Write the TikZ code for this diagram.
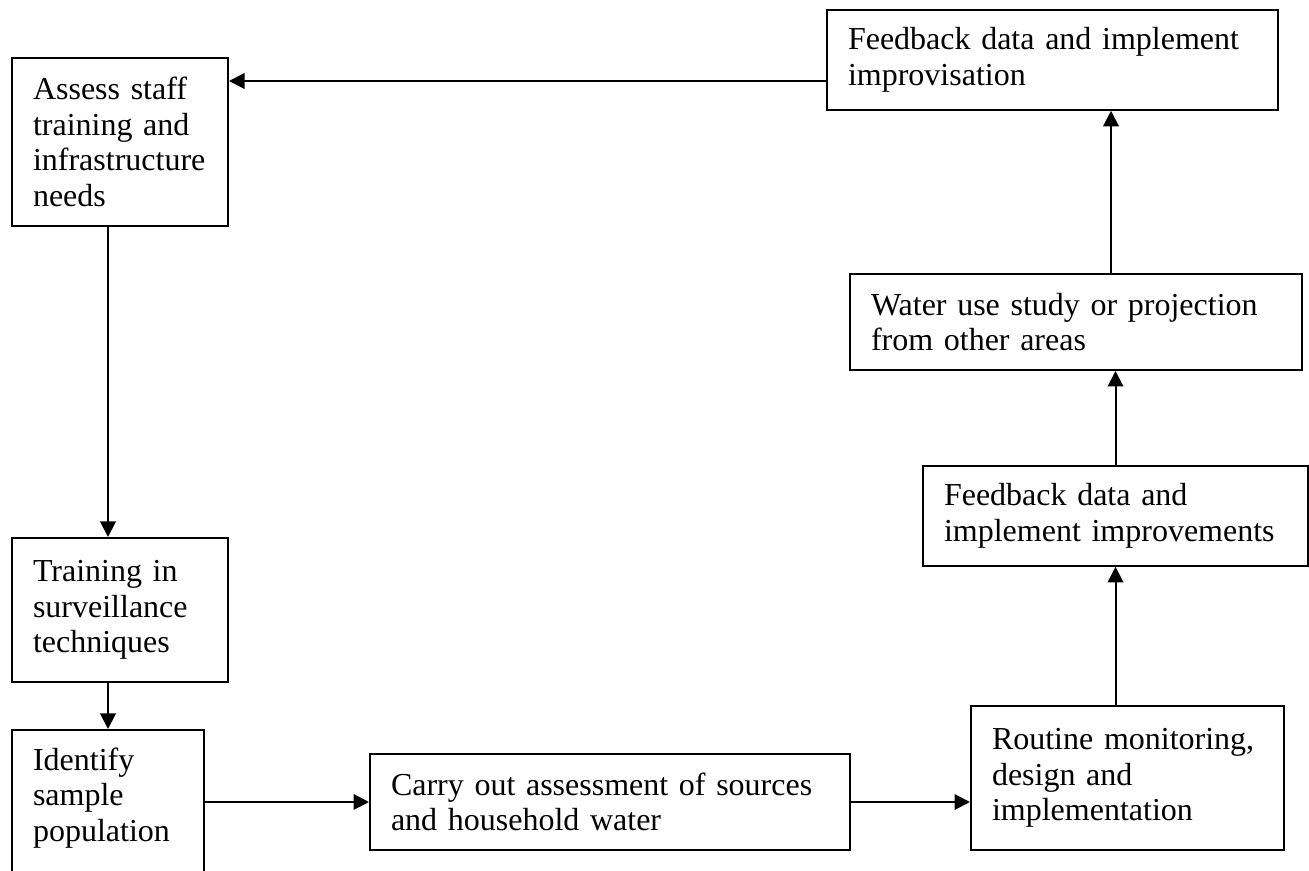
\documentclass[tikz,border=0pt]{standalone}
\usepackage{fontspec}
\setmainfont{Liberation Serif}
\usetikzlibrary{arrows.meta}

\begin{document}
\begin{tikzpicture}[x=0.4pt,y=-0.4pt,
  flowbox/.style={draw,line width=0.8pt,anchor=north west,align=left,
    inner xsep=8.4pt,inner ysep=7pt,font=\fontsize{12.8pt}{14.3pt}\selectfont},
  flowarrow/.style={line width=0.8pt,-{Triangle[length=6.2pt,width=6.2pt]}}]
  % Page frame
  \useasboundingbox (0,0) rectangle (1309,871);
  \clip (0,0) rectangle (1309,871);

  % Left column
  \node[flowbox,text width=69.6pt,minimum height=67.2pt] (assess) at (11,57)
    {Assess staff\\training and\\infrastructure\\needs};
  \node[flowbox,text width=69.6pt,minimum height=57.6pt] (training) at (11,537)
    {Training in\\surveillance\\techniques};
  \node[flowbox,text width=60pt,text depth=45pt] (identify) at (11,729)
    {Identify\\sample\\population};

  % Bottom row
  \node[flowbox,text width=175.2pt,minimum height=38.4pt] (carry) at (369,753)
    {Carry out assessment of sources\\and household water};
  \node[flowbox,text width=108.4pt,minimum height=57.6pt] (routine) at (970,705)
    {Routine monitoring,\\design and\\implementation};

  % Right column
  \node[flowbox,text width=137.2pt,minimum height=38.8pt] (fbimprove) at (922,465)
    {Feedback data and\\implement improvements};
  \node[flowbox,text width=164pt,minimum height=38.4pt] (water) at (849,273)
    {Water use study or projection\\from other areas};
  \node[flowbox,text width=163.6pt,minimum height=38.4pt] (fbimprov) at (826,9)
    {Feedback data and implement\\improvisation};

  % Arrows
  \coordinate (toprow) at (0,81);
  \coordinate (rightcol) at (1111,0);
  \draw[flowarrow] (fbimprov.west |- toprow) -- (assess.east |- toprow);
  \draw[flowarrow] (assess.south -| identify.north) -- (training.north -| identify.north);
  \draw[flowarrow] (training.south -| identify.north) -- (identify.north);
  \draw[flowarrow] (identify.east |- carry.west) -- (carry.west);
  \draw[flowarrow] (carry.east) -- (carry.east -| routine.west);
  \draw[flowarrow] (routine.north -| fbimprove.north) -- (fbimprove.south);
  \draw[flowarrow] (fbimprove.north) -- (water.south -| fbimprove.north);
  \draw[flowarrow] (water.north -| rightcol) -- (fbimprov.south -| rightcol);
\end{tikzpicture}
\end{document}
